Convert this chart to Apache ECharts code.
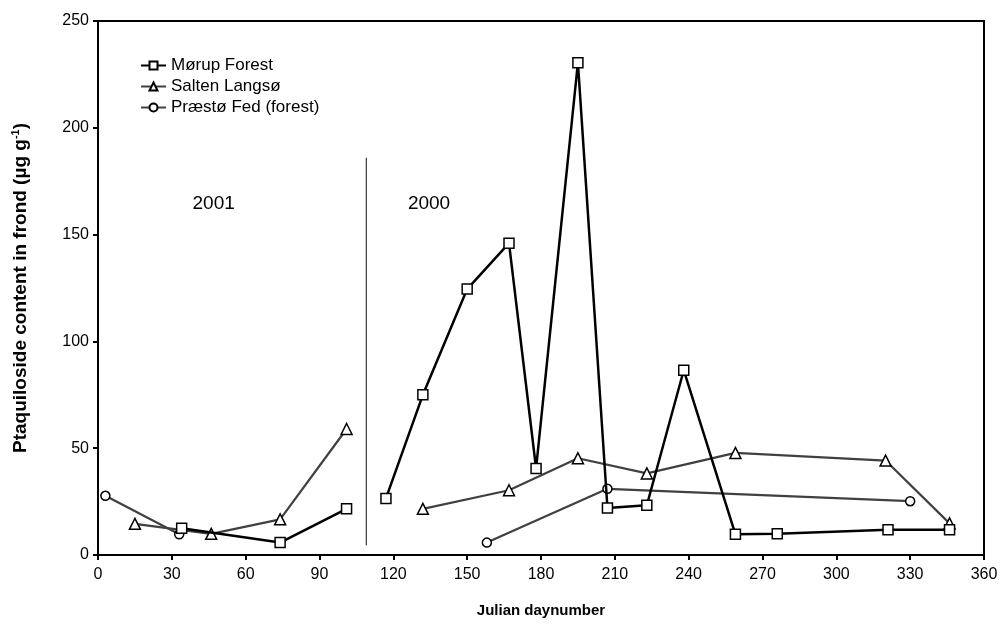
<!DOCTYPE html>
<html>
<head>
<meta charset="utf-8">
<script src="https://cdn.jsdelivr.net/npm/echarts@6/dist/echarts.min.js"></script>
<style>
html,body{margin:0;padding:0;background:#fff;}
#chart{width:1002px;height:624px;}
</style>
</head>
<body>
<div id="chart"></div>
<script>
// ---- data ----
const xTicks = [0,30,60,90,120,150,180,210,240,270,300,330,360];
const yTicks = [0,50,100,150,200,250];

const morupDays   = [34, 74, 101, null, 117, 132, 150, 167, 178, 195, 207, 223, 238, 259, 276, 321, 346];
const morupValues = [12.5, 5.8, 21.6, null, 26.5, 75, 124.5, 146, 40.5, 230.5, 22, 23.3, 86.5, 9.7, 9.9, 11.8, 11.8];

const saltenDays   = [15, 46, 74, 101, null, 132, 167, 195, 223, 259, 320, 346];
const saltenValues = [14.6, 9.9, 16.7, 59, null, 21.6, 30.3, 45.3, 38.2, 47.8, 44.2, 14.8];

const praestoDays   = [3, 33, null, 158, 207, 330];
const praestoValues = [27.7, 9.7, null, 5.8, 31, 25.2];

const seriesNames = ['Mørup Forest', 'Salten Langsø', 'Præstø Fed (forest)'];

const dividerDay = 109;
const dividerRange = [4.5, 186];

const yearLabels = ['2001', '2000'];
const yearLabelDays = [47, 134.5];
const yearLabelValue = 164.5;

function pairs(xs, ys){
  return xs.map((x,i)=> x===null ? [null,null] : [x, ys[i]]);
}

const font = 'Arial, "Liberation Sans", sans-serif';
const chart = echarts.init(document.getElementById('chart'), null, {renderer:'canvas'});

const markerStyle = {color:'#fff', borderColor:'#000', borderWidth:1.5};

chart.setOption({
  animation:false,
  backgroundColor:'#fff',
  textStyle:{fontFamily:font},
  grid:{left:98, right:18, top:21, bottom:69, show:true, borderColor:'#000', borderWidth:2, backgroundColor:'transparent'},
  legend:{
    orient:'vertical', left:140, top:57, padding:0, itemGap:4, itemWidth:25, itemHeight:10,
    data:seriesNames,
    textStyle:{fontSize:17, color:'#000', fontFamily:font}
  },
  xAxis:{
    type:'value', min:xTicks[0], max:xTicks[xTicks.length-1], interval:30,
    axisLine:{show:true, onZero:false, lineStyle:{color:'#000', width:2}},
    axisTick:{show:true, length:5, lineStyle:{color:'#000', width:2}},
    axisLabel:{color:'#000', fontSize:16, margin:12, fontFamily:font},
    splitLine:{show:false},
    name:'Julian daynumber', nameLocation:'middle', nameGap:48,
    nameTextStyle:{fontSize:15, fontWeight:'bold', color:'#000', fontFamily:font}
  },
  yAxis:{
    type:'value', min:yTicks[0], max:yTicks[yTicks.length-1], interval:50,
    axisLine:{show:true, lineStyle:{color:'#000', width:2}},
    axisTick:{show:true, length:5, lineStyle:{color:'#000', width:2}},
    axisLabel:{color:'#000', fontSize:16, margin:9, fontFamily:font},
    splitLine:{show:false},
    name:'{a|Ptaquiloside content in frond (µg g}{s|-1}{a|)}', nameLocation:'middle', nameGap:68, nameRotate:90,
    nameTextStyle:{
      color:'#000',
      rich:{
        a:{fontSize:19, fontWeight:'bold', color:'#000', fontFamily:font, verticalAlign:'bottom', lineHeight:20},
        s:{fontSize:11, fontWeight:'bold', color:'#000', fontFamily:font, verticalAlign:'top', padding:[0,0,9,0]}
      }
    }
  },
  series:[
    {
      type:'line', name:'divider', silent:true, symbol:'none',
      data:[[dividerDay, dividerRange[0]],[dividerDay, dividerRange[1]]],
      lineStyle:{color:'#111', width:1}, z:1
    },
    {
      type:'scatter', name:'years', silent:true, symbolSize:1,
      itemStyle:{opacity:1, color:'rgba(0,0,0,0)'},
      data:yearLabelDays.map((d,i)=>({value:[d, yearLabelValue], label:{show:true, formatter:yearLabels[i], color:'#000'}})),
      label:{show:true, position:'inside', fontSize:19, color:'#000', opacity:1, textBorderWidth:0, fontFamily:font}
    },
    {
      type:'line', name:seriesNames[2], data:pairs(praestoDays, praestoValues), connectNulls:false,
      symbol:'circle', symbolSize:9, showAllSymbol:true,
      lineStyle:{color:'#404040', width:2.2}, itemStyle:markerStyle, color:'#404040', z:3
    },
    {
      type:'line', name:seriesNames[1], data:pairs(saltenDays, saltenValues), connectNulls:false,
      symbol:'triangle', symbolSize:11, showAllSymbol:true,
      lineStyle:{color:'#404040', width:2.2}, itemStyle:markerStyle, color:'#404040', z:4
    },
    {
      type:'line', name:seriesNames[0], data:pairs(morupDays, morupValues), connectNulls:false,
      symbol:'rect', symbolSize:10, showAllSymbol:true,
      lineStyle:{color:'#000', width:2.5}, itemStyle:markerStyle, color:'#000', z:5
    }
  ]
});
</script>
</body>
</html>
